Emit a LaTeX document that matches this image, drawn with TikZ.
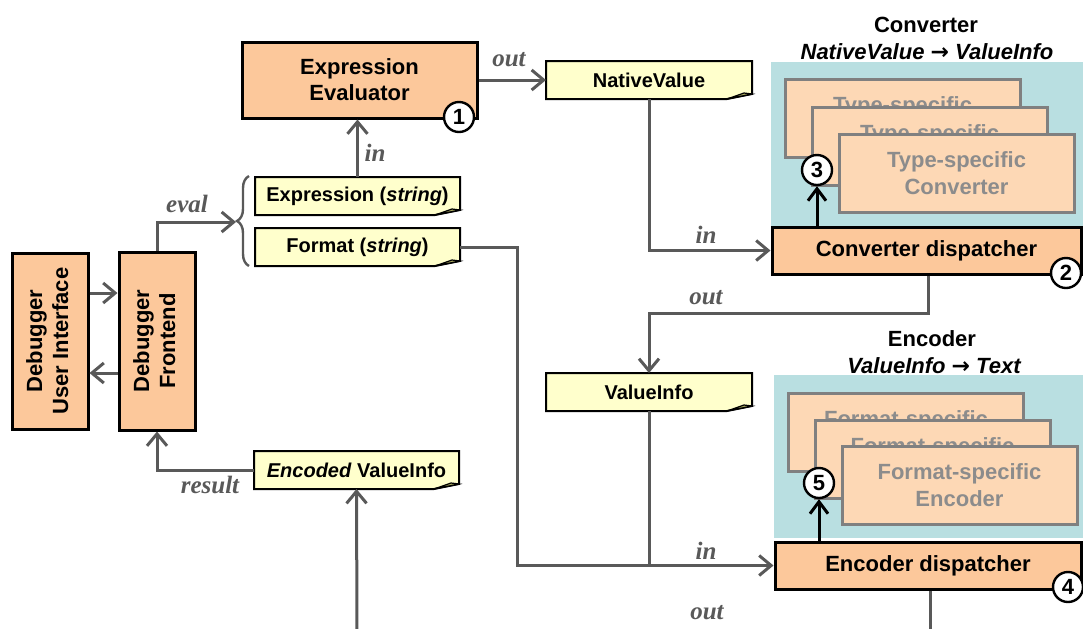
\documentclass[tikz,border=0pt]{standalone}
\usepackage{fontspec}
\usepackage{graphicx}
\setmainfont{Liberation Sans}
\newfontfamily\lblfont{Liberation Serif}
\newfontfamily\arrowfont{DejaVu Sans}
\usetikzlibrary{arrows.meta,backgrounds,decorations.pathreplacing}
\definecolor{boxc}{HTML}{FCC89B}
\definecolor{stackfill}{HTML}{FDD8B5}
\definecolor{stackline}{HTML}{808080}
\definecolor{stacktext}{HTML}{8C8C8C}
\definecolor{cyanbg}{HTML}{B9DFE1}
\definecolor{notefill}{HTML}{FFFFCC}
\definecolor{notefoldc}{HTML}{A8A860}
\definecolor{connc}{HTML}{595959}
\newcommand{\mynote}[1]{%
  \filldraw[draw=black, line width=1pt, fill=notefill, line join=miter]
    (#1.north west) -- (#1.north east) -- ([yshift=2.5pt]#1.south east)
    -- ([xshift=-12.5pt]#1.south east) -- (#1.south west) -- cycle;
  \filldraw[draw=black, line width=0.6pt, fill=notefoldc]
    ([xshift=-12.5pt]#1.south east) -- ([yshift=2.5pt]#1.south east)
    -- ([xshift=-4pt,yshift=3pt]#1.south east) -- cycle;}
\newcommand{\myarrow}{{\arrowfont\bfseries\upshape →}}
\tikzset{
  box/.style={draw=black, line width=1.5pt, fill=boxc, align=center, inner sep=0pt,
    font=\bfseries\fontsize{11}{13}\selectfont},
  notenode/.style={draw=none, inner sep=0pt, outer sep=0pt, minimum width=102.5pt,
    minimum height=19pt, font=\bfseries\fontsize{10}{12}\selectfont},
  stackbox/.style={draw=stackline, line width=1.5pt, fill=stackfill, text=stacktext,
    align=center, inner sep=0pt, minimum width=117.5pt, minimum height=39pt,
    font=\bfseries\fontsize{11}{13.5}\selectfont},
  badge/.style={circle, draw=black, line width=1.2pt, fill=white, inner sep=0pt,
    minimum size=15pt, font=\bfseries\fontsize{11}{13}\selectfont},
  conn/.style={draw=connc, line width=1.5pt,
    -{Straight Barb[length=6pt,width=10pt,line width=1.5pt]}},
  plainconn/.style={draw=connc, line width=1.5pt},
  barr/.style={draw=black, line width=1.5pt,
    -{Straight Barb[length=6pt,width=9pt,line width=1.5pt]}},
  lbl/.style={text=connc, font=\lblfont\bfseries\itshape\fontsize{12.5}{14}\selectfont},
  title/.style={font=\bfseries\fontsize{11}{13}\selectfont},
}
\begin{document}
\begin{tikzpicture}[x=0.5pt,y=-0.5pt]
\useasboundingbox (0,0) rectangle (1083,628);
% cyan regions
\fill[cyanbg] (771,62) rectangle (1083,227);
\fill[cyanbg] (774,375) rectangle (1083,538);
% titles
\node[title] (t1) at (926,25) {Converter};
\node[title] (t1b) at (927,52) {\itshape NativeValue \myarrow{} ValueInfo};
\node[title] (t2) at (932,339) {Encoder};
\node[title] (t2b) at (934,366) {\itshape ValueInfo \myarrow{} Text};
% stacks
\node[stackbox] (ca) at (902.5,118) {Type-specific\\Converter};
\node[stackbox] (cb) at (929.5,146) {Type-specific\\Converter};
\node[stackbox] (cc) at (956.5,173) {Type-specific\\Converter};
\node[stackbox] (ea) at (906,432) {Format-specific\\Encoder};
\node[stackbox] (eb) at (932.5,459) {Format-specific\\Encoder};
\node[stackbox] (ec) at (959.5,485.5) {Format-specific\\Encoder};
% boxes
\node[box, minimum width=38pt, minimum height=88pt] (ui) at (50,341)
  {\rotatebox{90}{\begin{tabular}{@{}c@{}}Debugger\\User Interface\end{tabular}}};
\node[box, minimum width=38pt, minimum height=89pt] (fe) at (157,341)
  {\rotatebox{90}{\begin{tabular}{@{}c@{}}Debugger\\Frontend\end{tabular}}};
\node[box, minimum width=117.5pt, minimum height=38pt] (ev) at (359.5,80)
  {Expression\\Evaluator};
\node[box, minimum width=154.5pt, minimum height=23.5pt] (cd) at (926.5,250.5)
  {Converter dispatcher};
\node[box, minimum width=153pt, minimum height=23.5pt] (ed) at (928,565.5)
  {Encoder dispatcher};
% notes
\node[notenode] (expr) at (357.5,196) {Expression (\textit{string})};
\node[notenode] (fmt) at (357.5,247) {Format (\textit{string})};
\node[notenode, minimum width=103pt] (nv) at (649,80) {NativeValue};
\node[notenode, minimum width=103pt] (vi) at (649,392) {ValueInfo};
\node[notenode] (enc) at (356.5,470) {\textit{Encoded} ValueInfo};
\begin{pgfonlayer}{background}
\mynote{expr}\mynote{fmt}\mynote{nv}\mynote{vi}\mynote{enc}
\end{pgfonlayer}
% badges
\node[badge] (b1) at (459,117) {1};
\node[badge] (b2) at (1066,273) {2};
\node[badge] (b3) at (817,170) {3};
\node[badge] (b4) at (1068,587) {4};
\node[badge] (b5) at (819,483) {5};
% coordinates
\coordinate (bt) at (236,222);
\coordinate (encin) at (357,632);
\coordinate (edout) at (930,632);
% brace
\draw[connc, line width=1.2pt, decorate, decoration={brace, amplitude=6pt}]
  (249,266) -- (249,176);
% connectors
\draw[conn] ([yshift=24pt]ui.east) -- ([yshift=24pt]fe.west);
\draw[conn] ([yshift=-16pt]fe.west) -- ([yshift=-16pt]ui.east);
\draw[conn] (fe.north) |- (bt);
\draw[conn] (expr.north) -- (expr.north |- ev.south);
\draw[conn] (ev.east) -- (nv.west);
\draw[conn] (nv.south) |- (cd.west);
\draw[conn] ([xshift=1pt]cd.south) -- ++(0,38) -| (vi.north);
\draw[plainconn] (vi.south) -- (vi.south |- ed.west);
\draw[conn] (fmt.east) -- ++(57,0) |- (ed.west);
\draw[plainconn] ([xshift=1pt]ed.south) -- (edout);
\draw[conn] (encin) -- (enc.south);
\draw[conn] (enc.west) -| (fe.south);
\draw[barr] (cd.north -| b3) -- (b3.south);
\draw[barr] (ed.north -| b5) -- (b5.south);
% labels
\node[lbl] (leval) at (187,204) {eval};
\node[lbl] (lin1) at (375,153) {in};
\node[lbl] (lout1) at (509,60) {out};
\node[lbl] (lin2) at (706,235) {in};
\node[lbl] (lout2) at (706,298) {out};
\node[lbl] (lin3) at (706,551) {in};
\node[lbl] (lout3) at (707,613) {out};
\node[lbl] (lres) at (210,485) {result};
\end{tikzpicture}
\end{document}
